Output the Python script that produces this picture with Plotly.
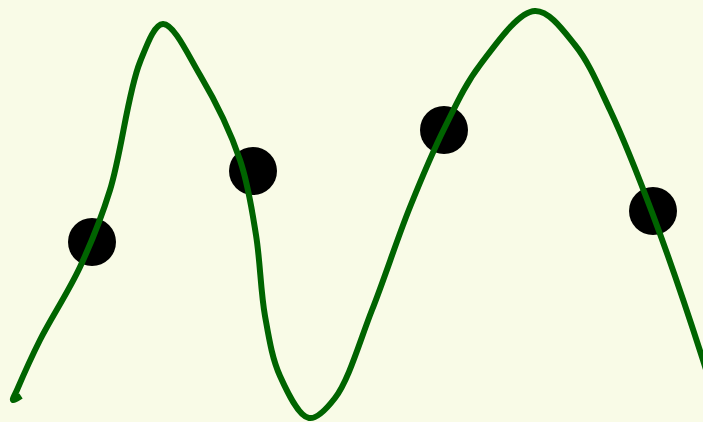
import plotly.graph_objects as go

# Curve samples (x, height above bottom edge)
curve_x = [21, 13, 17, 40, 80, 110, 140, 163, 200, 240, 256, 265, 280, 309, 335,
           372, 410, 445, 480, 535, 575, 610, 653, 703, 712]
curve_y = [26, 22, 32, 82, 155, 232, 360, 398, 347, 262, 187, 106, 46, 4, 24,
           112, 215, 295, 357, 411, 377, 312, 207, 62, 32]

# Dots
dot_x = [92, 253, 444, 653]
dot_y = [180, 251, 292, 211]

fig = go.Figure()
fig.add_trace(go.Scatter(
    x=dot_x, y=dot_y, mode="markers",
    marker=dict(size=48, color="black", line=dict(width=0)),
    hoverinfo="skip", showlegend=False))
fig.add_trace(go.Scatter(
    x=curve_x, y=curve_y, mode="lines",
    line=dict(color="#006400", width=6, shape="spline", smoothing=1),
    hoverinfo="skip", showlegend=False))

fig.update_layout(
    width=703, height=422,
    margin=dict(l=0, r=0, t=0, b=0),
    paper_bgcolor="#f9fbe7", plot_bgcolor="#f9fbe7",
    xaxis=dict(range=[0, 703], visible=False, fixedrange=True),
    yaxis=dict(range=[0, 422], visible=False, fixedrange=True),
    showlegend=False,
)
fig.write_html(
    "out.html",
    config={"displayModeBar": False},
    post_script="document.body.style.margin='0';document.body.style.background='#f9fbe7';",
)
